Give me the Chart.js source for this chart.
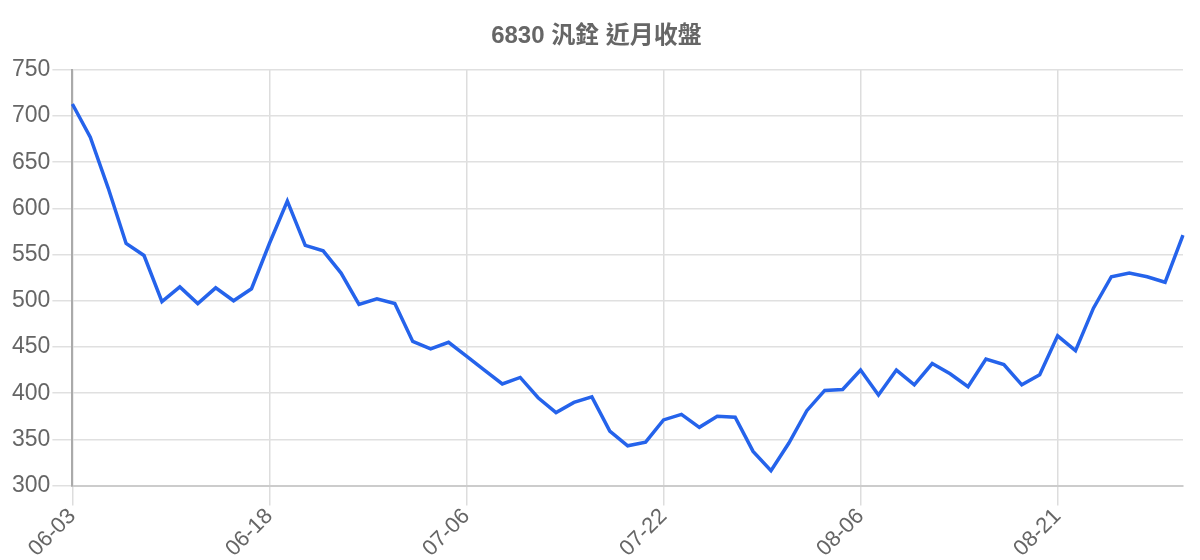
<!DOCTYPE html>
<html>
<head>
<meta charset="utf-8">
<title>6830 汎銓 近月收盤</title>
<script src="https://cdn.jsdelivr.net/npm/chart.js@4.4.1/dist/chart.umd.min.js"></script>
<style>
  html, body { margin: 0; padding: 0; background: #fff; }
  #wrap { width: 1200px; height: 560px; position: relative; }
</style>
</head>
<body>
<div id="wrap"><canvas id="priceChart"></canvas></div>
<script>
// trading dates (MM-DD)
const dates = [
    '06-03', '06-04', '06-05', '06-06', '06-07', '06-10', '06-11', '06-12', '06-13', '06-14', '06-17',
    '06-18', '06-19', '06-20', '06-21', '06-24', '06-25', '06-26', '06-27', '06-28', '07-01', '07-03',
    '07-06', '07-08', '07-09', '07-10', '07-11', '07-12', '07-15', '07-16', '07-17', '07-18', '07-19',
    '07-22', '07-23', '07-24', '07-25', '07-26', '07-29', '07-30', '07-31', '08-01', '08-02', '08-05',
    '08-06', '08-07', '08-08', '08-09', '08-12', '08-13', '08-14', '08-15', '08-16', '08-19', '08-20',
    '08-21', '08-22', '08-23', '08-26', '08-27', '08-28', '08-29', '08-30'
];

// closing prices
const closes = [
    713, 677, 622, 562, 549, 499, 515, 497, 514, 500, 513,
    562, 608, 560, 554, 530, 496, 502, 497, 456, 448, 455,
    440, 425, 410, 417, 395, 379, 390, 396, 359, 343, 347,
    371, 377, 363, 375, 374, 337, 316, 346, 381, 403, 404,
    425, 398, 425, 409, 432, 421, 407, 437, 431, 409, 420,
    462, 446, 492, 526, 530, 526, 520, 571
];

const yTicks = [300, 350, 400, 450, 500, 550, 600, 650, 700, 750];
const labelEvery = 11; // show one date every 11 trading days

const fontFamily = "'Liberation Sans', Arial, 'Noto Sans CJK TC', sans-serif";

const ctx = document.getElementById('priceChart').getContext('2d');
new Chart(ctx, {
    type: 'line',
    data: {
        labels: dates,
        datasets: [{
            label: '收盤',
            data: closes,
            borderColor: '#2563eb',
            borderWidth: 3.5,
            pointRadius: 0,
            tension: 0,
            fill: false
        }]
    },
    options: {
        responsive: true,
        maintainAspectRatio: false,
        animation: false,
        layout: { padding: { left: 10, right: 17, top: 0, bottom: 0 } },
        plugins: {
            legend: { display: false },
            tooltip: { enabled: false },
            title: {
                display: true,
                text: '6830 汎銓 近月收盤',
                color: '#666',
                font: { family: fontFamily, size: 24, weight: 'bold' },
                padding: { top: 22, bottom: 19 }
            }
        },
        scales: {
            x: {
                grid: { color: '#ddd', lineWidth: 1.5, tickLength: 20 },
                border: { color: '#ccc', width: 2 },
                ticks: {
                    autoSkip: false,
                    maxRotation: 45,
                    minRotation: 45,
                    color: '#666',
                    padding: -2,
                    font: { family: fontFamily, size: 22 },
                    callback: function (value, index) {
                        return index % labelEvery === 0 ? this.getLabelForValue(value) : null;
                    }
                }
            },
            y: {
                min: yTicks[0],
                max: yTicks[yTicks.length - 1],
                afterBuildTicks: axis => {
                    axis.ticks = yTicks.map(v => ({ value: v }));
                },
                grid: { color: '#e0e0e0', lineWidth: 1.5, tickLength: 20 },
                border: { color: '#aaa', width: 2 },
                ticks: {
                    color: '#666',
                    padding: 2,
                    font: { family: fontFamily, size: 23 }
                }
            }
        }
    }
});
</script>
</body>
</html>
